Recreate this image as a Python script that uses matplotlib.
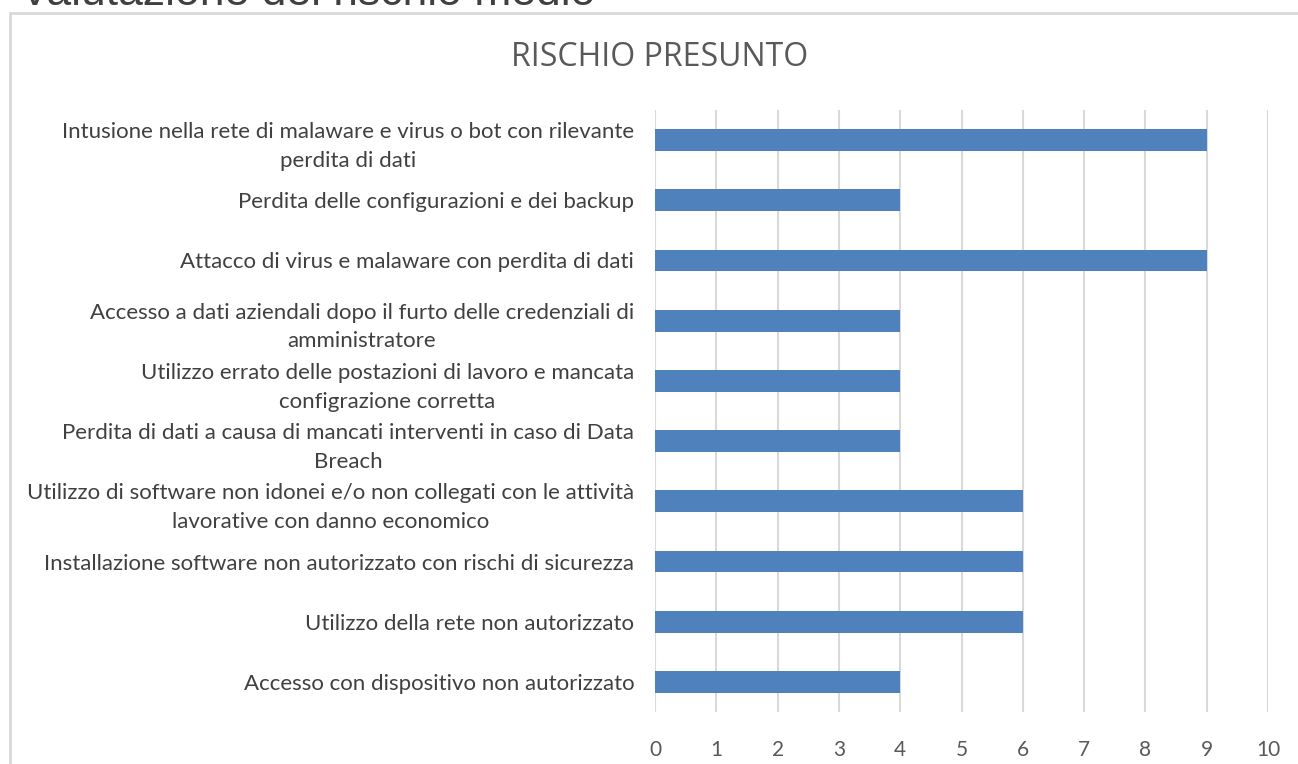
import matplotlib
matplotlib.use("Agg")
import matplotlib.pyplot as plt
from matplotlib.patches import Rectangle

# data, top to bottom as in the chart
categories = [
    "Intusione nella rete di malaware e virus o bot con rilevante\nperdita di dati",
    "Perdita delle configurazioni e dei backup",
    "Attacco di virus e malaware con perdita di dati",
    "Accesso a dati aziendali dopo il furto delle credenziali di\namministratore",
    "Utilizzo errato delle postazioni di lavoro e mancata\nconfigrazione corretta",
    "Perdita di dati a causa di mancati interventi in caso di Data\nBreach",
    "Utilizzo di software non idonei e/o non collegati con le attività\nlavorative con danno economico",
    "Installazione software non autorizzato con rischi di sicurezza",
    "Utilizzo della rete non autorizzato",
    "Accesso con dispositivo non autorizzato",
]
values = [9, 4, 9, 4, 4, 4, 6, 6, 6, 4]
x_ticks = list(range(0, 11))

W, H = 1298, 764
fig = plt.figure(figsize=(W / 100, H / 100), dpi=100)

# outer chart border (runs off right and bottom edges)
fig.patches.append(Rectangle((10 / W, -0.05), 1.1, 1 - 13 / H + 0.05,
                             transform=fig.transFigure, fill=False,
                             edgecolor="#d9d9d9", linewidth=2))

# heading cut off at the top of the page
fig.text(20 / W, 1 - 5 / H, "Valutazione del rischio medio", fontsize=32,
         family="Liberation Sans", color="#404040", ha="left", va="baseline")

ax = fig.add_axes([655 / W, 1 - 712 / H, (1268 - 655) / W, (712 - 110) / H])
ypos = list(range(len(categories)))
ax.barh(ypos, values, height=0.36, color="#4f81bd", zorder=3)
ax.set_ylim(len(categories) - 0.5, -0.5)
ax.set_xlim(0, 10)
ax.set_xticks(x_ticks)
ax.set_yticks(ypos)
ax.set_yticklabels(categories, fontsize=16, family="Lato", color="#404040",
                   multialignment="center", linespacing=1.55)
ax.tick_params(axis="y", length=0, pad=15)
ax.tick_params(axis="x", length=0, pad=20, labelsize=15, labelcolor="#595959")
for lab in ax.get_xticklabels():
    lab.set_family("Lato")
ax.grid(axis="x", color="#d9d9d9", linewidth=1.5, zorder=0)
for s in ax.spines.values():
    s.set_visible(False)

fig.text(660 / W, 1 - 58 / H, "RISCHIO PRESUNTO", fontsize=23, family="Open Sans",
         color="#595959", ha="center", va="center")

fig.savefig("out.png", dpi=100)
